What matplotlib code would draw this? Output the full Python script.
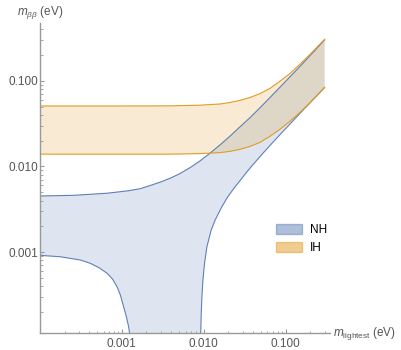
import numpy as np
import matplotlib
matplotlib.use('Agg')
import matplotlib.pyplot as plt
from matplotlib.patches import Patch

plt.rcParams['font.family'] = ['Liberation Sans', 'DejaVu Sans']
plt.rcParams['mathtext.fontset'] = 'custom'
plt.rcParams['mathtext.rm'] = 'Liberation Sans'
plt.rcParams['mathtext.it'] = 'Liberation Sans:italic'

# Hierarquia normal (NH): limites superior e inferior
nh_up_x = [1e-4, 2.56e-4, 6.66e-4, 1.2e-3, 1.68e-3, 2.23e-3, 3.0e-3, 3.9e-3, 5.0e-3, 6.84e-3, 9.0e-3,
           0.012, 0.016, 0.021, 0.028, 0.0369, 0.05, 0.0647, 0.085, 0.1135, 0.15, 0.199, 0.25, 0.30]
nh_up_y = [0.00452, 0.0046, 0.00487, 0.0052, 0.0055, 0.006, 0.0066, 0.0073, 0.00815, 0.0097, 0.0116,
           0.0143, 0.018, 0.0226, 0.0292, 0.0372, 0.0496, 0.0638, 0.0836, 0.1112, 0.147, 0.196, 0.248, 0.300]

# limite inferior: ramo esquerdo, zero (1e-8, fora do eixo), ramo direito
nh_low_x = [1e-4, 1.78e-4, 3.12e-4, 4.13e-4, 5.3e-4, 6.61e-4, 7.7e-4, 8.73e-4, 9.6e-4, 1.05e-3, 1.13e-3,
            1.21e-3, 1.28e-3, 1.34e-3, 1.38e-3, 1.43e-3,
            9.02e-3, 9.1e-3, 9.2e-3, 9.33e-3, 9.51e-3, 9.78e-3, 1.023e-2, 1.094e-2, 1.234e-2, 1.38e-2,
            1.667e-2, 1.972e-2, 2.4e-2, 2.786e-2, 3.3e-2, 3.98e-2, 5.36e-2, 6.5e-2, 7.81e-2, 9.4e-2,
            0.13, 0.1648, 0.2334, 0.30]
nh_low_y = [9.18e-4, 8.83e-4, 8.09e-4, 7.40e-4, 6.55e-4, 5.66e-4, 4.85e-4, 3.95e-4, 3.15e-4, 2.31e-4, 1.8e-4,
            1.35e-4, 9.3e-5, 5.7e-5, 3.3e-5, 1e-8,
            1e-8, 5e-5, 1.12e-4, 1.93e-4, 3.02e-4, 4.72e-4, 7.39e-4, 1.156e-3, 1.81e-3, 2.37e-3,
            3.39e-3, 4.43e-3, 5.74e-3, 6.85e-3, 8.42e-3, 0.01044, 0.01443, 0.01769, 0.02139, 0.02587,
            0.03594, 0.04567, 0.06477, 0.0833]

# Hierarquia invertida (IH)
ih_up_x = [1e-4, 1e-3, 3.9e-3, 9.06e-3, 0.0159, 0.02104, 0.0279, 0.0369, 0.0489, 0.0647, 0.085,
           0.1135, 0.15, 0.199, 0.25, 0.30]
ih_up_y = [0.0507, 0.0507, 0.0509, 0.0518, 0.0535, 0.0557, 0.0590, 0.0638, 0.0708, 0.0815, 0.0983,
           0.1215, 0.156, 0.203, 0.254, 0.304]

ih_low_x = [1e-4, 3.9e-3, 9.06e-3, 0.0159, 0.02104, 0.0279, 0.0369, 0.0489, 0.0647, 0.085, 0.1135,
            0.15, 0.199, 0.25, 0.30]
ih_low_y = [0.0139, 0.0139, 0.0141, 0.0145, 0.0150, 0.01583, 0.01712, 0.01911, 0.0225, 0.0270, 0.0337,
            0.0428, 0.0553, 0.0695, 0.0833]

x_ticks = [0.001, 0.01, 0.1]
x_labels = ['0.001', '0.010', '0.100']
y_ticks = [0.001, 0.01, 0.1]
y_labels = ['0.001', '0.010', '0.100']

azul = '#5E81B5'
laranja = '#E19C24'
cinza = '#999999'
texto = '#555555'

fig = plt.figure(figsize=(4.01, 3.5), dpi=100)
ax = fig.add_axes([40 / 401, 17 / 350, 290 / 401, 310 / 350])
ax.set_xscale('log')
ax.set_yscale('log')

# NH
ax.fill(nh_up_x + nh_low_x[::-1], nh_up_y + nh_low_y[::-1], color=azul, alpha=0.2, lw=0)
ax.plot(nh_up_x, nh_up_y, color=azul, lw=0.8)
ax.plot(nh_low_x, nh_low_y, color=azul, lw=0.8)

# IH
ax.fill(ih_up_x + ih_low_x[::-1], ih_up_y + ih_low_y[::-1], color=laranja, alpha=0.2, lw=0)
ax.plot(ih_up_x, ih_up_y, color=laranja, lw=0.8)
ax.plot(ih_low_x, ih_low_y, color=laranja, lw=0.8)

ax.set_xlim(1e-4, 0.349)
ax.set_ylim(1.14e-4, 0.471)

for s in ['top', 'right']:
    ax.spines[s].set_visible(False)
for s in ['left', 'bottom']:
    ax.spines[s].set_color(cinza)
    ax.spines[s].set_linewidth(1.0)

ax.set_xticks(x_ticks)
ax.set_xticklabels(x_labels)
ax.set_yticks(y_ticks)
ax.set_yticklabels(y_labels)
ax.tick_params(which='major', direction='in', length=3, width=0.8, color=cinza,
               labelsize=8.5, labelcolor=texto)
ax.tick_params(which='minor', direction='in', length=1.8, width=0.6, color=cinza)
ax.tick_params(axis='x', which='major', pad=3.5)
ax.tick_params(axis='y', which='major', pad=1.5)

# Rótulos dos eixos
ax.text(0, 1.006, r'$m_{\beta\beta}$ (eV)', transform=ax.transAxes, ha='center', va='bottom',
        fontsize=8.5, color=texto)
ax.text(1.01, 0, r'$m_{\rm lightest}$ (eV)', transform=ax.transAxes, ha='left', va='center',
        fontsize=8.5, color=texto)

# Legenda
handles = [Patch(facecolor=azul, alpha=0.5, edgecolor=azul, label='NH'),
           Patch(facecolor=laranja, alpha=0.5, edgecolor=laranja, label='IH')]
fig.legend(handles=handles, loc='upper left', bbox_to_anchor=(276 / 401, 1 - 224 / 350),
           frameon=False, fontsize=8.5, handlelength=2.2, handleheight=0.85,
           handletextpad=0.65, labelspacing=0.5, borderpad=0, borderaxespad=0)

plt.savefig('out.png', dpi=100)
